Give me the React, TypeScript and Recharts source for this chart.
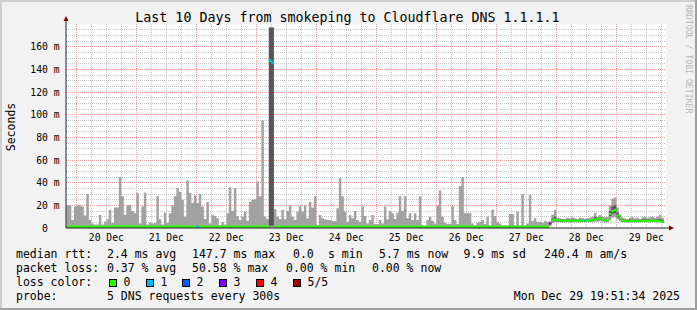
import React from "react";
import { ComposedChart, Area, XAxis, YAxis, CartesianGrid, ReferenceDot } from "recharts";

const FONT = "'DejaVu Sans Mono', monospace";

// hours counted from 19 Dec 00:00; the window ends Mon Dec 29 19:51:34
const windowStart = 19.86;
const windowEnd = 259.86;
const firstBarHour = 20;

const dayLabels = ["20 Dec", "21 Dec", "22 Dec", "23 Dec", "24 Dec", "25 Dec", "26 Dec", "27 Dec", "28 Dec", "29 Dec"];
const dayNoonHours = [36, 60, 84, 108, 132, 156, 180, 204, 228, 252];
const yTicks = [0, 20, 40, 60, 80, 100, 120, 140, 160];

// hourly max ping (ms), 19 Dec 20:00 -> 27 Dec 20:00
const smokeTopOld = [
  20, 20, 7, 19, 20, 20, 19, 11, 30, 7,
  4, 3, 3, 11.5, 3, 5.6, 7.7, 16, 4.7, 18,
  18, 45, 28, 11.5, 20, 20, 15, 13, 31, 4,
  19, 31, 3, 4.7, 4, 4.5, 28, 7.7, 3, 13.5,
  4.7, 13, 20, 28, 35, 32, 25, 10, 42, 31,
  22, 29, 22, 30, 19, 8, 23, 4, 11.5, 10.6,
  8.5, 2.7, 5.6, 3, 13, 36, 15, 35, 10.6, 7,
  10, 14.5, 6.5, 23, 25, 25.4, 41, 28, 95, 10,
  8, 177, 177, 16.5, 10, 7.7, 16, 7.7, 15, 20,
  10, 7, 14.5, 19, 14.5, 20, 8.5, 23, 18, 28,
  2.7, 11.5, 8.5, 7.7, 7, 7, 6.2, 6.2, 17.4, 44,
  28, 14.5, 5.6, 11.5, 8.5, 15, 7, 5.6, 19, 10.6,
  4, 7, 11.5, 3.5, 3.5, 7, 4, 19, 7.7, 15,
  13, 8, 13.5, 28, 15, 28, 8.5, 13, 7, 13,
  7, 28, 2.7, 2, 7, 10, 6.5, 4, 20, 33,
  10, 4.7, 3.5, 3.5, 19.5, 7, 3.5, 37, 45, 13,
  13, 13, 4, 2.5, 4.7, 5.6, 7, 3.5, 10, 2.5,
  16, 10.6, 5.6, 4, 2.5, 2.5, 2.5, 12.4, 12.4, 2.5,
  14.5, 2.5, 30, 2.5, 4, 29, 6, 8.5, 5.6, 5.6,
  4.7, 6.5, 5.6,
];
const medianOld = [
  1.2, 1.2, 1.0, 1.2, 1.4, 1.2, 1.2, 1.0, 1.2, 1.0,
  1.0, 1.0, 1.0, 1.2, 1.0, 1.0, 1.2, 1.4, 1.6, 1.4,
  1.6, 1.8, 1.6, 1.4, 1.6, 1.8, 1.6, 1.4, 1.2, 1.0,
  1.2, 1.2, 1.0, 1.0, 1.0, 1.0, 1.2, 1.0, 1.0, 1.2,
  1.0, 1.2, 1.4, 1.6, 1.8, 1.6, 1.4, 1.2, 1.4, 1.2,
  1.4, 1.2, 1.0, 1.2, 1.2, 1.0, 1.2, 1.0, 1.0, 1.0,
  1.0, 1.0, 1.0, 1.0, 1.2, 1.4, 1.2, 1.4, 1.2, 1.0,
  1.0, 1.2, 1.0, 1.2, 1.4, 1.4, 1.6, 1.4, 1.8, 1.2,
  1.2, 147.7, 146, 1.4, 1.2, 1.0, 1.2, 1.0, 1.2, 1.4,
  1.0, 1.0, 1.2, 1.4, 1.2, 1.4, 1.0, 1.2, 1.2, 1.4,
  1.0, 1.2, 1.0, 1.0, 1.0, 1.0, 1.0, 1.0, 1.4, 1.8,
  1.6, 1.2, 1.0, 1.2, 1.0, 1.2, 1.0, 1.0, 1.2, 1.0,
  1.0, 1.0, 1.2, 1.0, 1.0, 1.0, 1.0, 1.2, 1.0, 1.2,
  1.2, 1.0, 1.2, 1.4, 1.2, 1.4, 1.0, 1.2, 1.0, 1.2,
  1.0, 1.4, 1.0, 1.0, 1.0, 1.2, 1.0, 1.0, 1.2, 1.6,
  1.2, 1.0, 1.0, 1.0, 1.2, 1.0, 1.0, 1.6, 1.8, 1.2,
  1.2, 1.2, 1.0, 1.0, 1.0, 1.0, 1.0, 1.0, 1.2, 1.0,
  1.2, 1.2, 1.0, 1.0, 1.0, 1.0, 1.0, 1.2, 1.2, 1.0,
  1.2, 1.0, 1.4, 1.0, 1.0, 1.4, 1.0, 1.2, 1.0, 1.0,
  1.0, 1.2, 1.0,
];
// the spike on 22 Dec evening: dense smoke
const spikeBars = [82, 83];
const spikeCoreLow = [2, 2];
const spikeCoreTop = [177, 177];

// 27 Dec 21:00 -> 29 Dec 18:00
const smokeLowNew = [
  1.5, 4.5, 5, 5, 5, 4.8, 4.8, 5, 5, 4.8, 5, 5, 4.8, 5, 5, 5, 5, 5.2, 5.5, 5.5, 6, 5.5, 5,
  5.2, 7, 9, 9.5, 7.5, 6, 5, 4.8, 4.8, 4.8, 5, 4.8, 4.8, 4.8, 5, 5, 5, 4.8, 5, 5, 5, 4.8, 4.5,
];
const smokeTopNew = [
  6, 12, 16, 9, 8.5, 8, 8, 9, 8.5, 9.5, 8.5, 8, 9, 8.5, 8, 8.5, 9, 10, 13.5, 10, 11.5, 10, 9.5,
  10, 20, 26, 27, 18, 12, 9, 8.5, 8, 9, 9.5, 8.5, 9, 8, 9.5, 10, 9, 9.5, 10, 9, 10, 11.5, 9,
];
const coreLowNew = [
  3, 6, 6.5, 6, 5.8, 5.8, 5.6, 5.8, 5.8, 5.6, 5.8, 5.8, 5.6, 5.8, 5.8, 5.8, 5.8, 6.2, 7, 6.8, 7.5, 6.3, 5.8,
  6.2, 10.5, 12.5, 13, 9.5, 7.5, 5.8, 5.4, 5.4, 5.4, 5.6, 5.4, 5.6, 5.4, 5.8, 5.6, 5.8, 5.4, 5.8, 5.8, 5.6, 5.4, 5,
];
const coreTopNew = [
  5, 8.5, 10, 8, 7.3, 7.3, 7, 7.5, 7.3, 7.2, 7.3, 7.2, 7.2, 7.3, 7.2, 7.3, 7.5, 8, 10, 8.5, 9.5, 8, 7.5,
  8, 15, 19, 20, 13.5, 10, 7.5, 7, 7, 7.2, 7.3, 7, 7.3, 7, 7.5, 7.5, 7.5, 7.2, 7.5, 7.5, 7.5, 7.8, 6.8,
];
const medianNew = [
  4, 7, 7.5, 7, 6.5, 6.5, 6.2, 6.5, 6.5, 6.2, 6.5, 6.5, 6.2, 6.5, 6.5, 6.5, 6.5, 7, 8, 7.5, 8.5, 7, 6.5,
  7, 12.5, 15, 16, 11, 8.5, 6.5, 6, 6, 6, 6.2, 6, 6.2, 6, 6.5, 6.2, 6.5, 6, 6.5, 6.5, 6.2, 6, 5.5,
];

// bars (1-based) with lost pings
const lossBars = [53, 82, 83, 194, 208];
const lossCounts = [1, 1, 1, 3, 1];
const lossColors = ["#26ff00", "#00b8ff", "#0059ff", "#7e00ff", "#ff0000", "#a10000"];
const lossLabels = ["0", "1", "2", "3", "4", "5/5"];

const smokeTop = [...smokeTopOld, ...smokeTopNew];
const smokeLow = [...smokeTopOld.map(() => 0), ...smokeLowNew];
const median = [...medianOld, ...medianNew];
const coreLow: (number | null)[] = [...smokeTopOld.map(() => null), ...coreLowNew];
const coreTop: (number | null)[] = [...smokeTopOld.map(() => null), ...coreTopNew];
spikeBars.forEach((b, i) => {
  coreLow[b - 1] = spikeCoreLow[i];
  coreTop[b - 1] = spikeCoreTop[i];
});
const loss = median.map(() => 0);
lossBars.forEach((b, i) => (loss[b - 1] = lossCounts[i]));

const n = median.length;
const HALF = 0.9; // median drawn as a ~2px band

// stepAfter needs the closing point of every run, so carry the previous bar one step
function pick(j: number, f: (i: number) => number[] | null) {
  const v = j < n ? f(j) : null;
  if (v) return v;
  return j > 0 ? f(j - 1) : null;
}

const rows = Array.from({ length: n + 1 }, (_, j) => {
  const row: any = { t: firstBarHour + j };
  row.smoke = pick(j, (i) => [smokeLow[i], smokeTop[i]]);
  row.core = pick(j, (i) => (coreLow[i] == null ? null : [coreLow[i] as number, coreTop[i] as number]));
  lossColors.forEach((_, c) => {
    row["loss" + c] = pick(j, (i) => (c === 0 || loss[i] === c ? [median[i] - HALF, median[i] + HALF] : null));
  });
  return row;
});

const minorY: number[] = [];
for (let v = 5; v < 180; v += 5) if (v % 20) minorY.push(v);
const majorY = yTicks.filter((v) => v > 0);
const minorX: number[] = [];
const majorX: number[] = [];
for (let h = 24; h < windowEnd; h += 6) (h % 24 ? minorX : majorX).push(h);

const YTick = (p: any) => {
  const v = p.payload.value;
  return (
    <text x={p.x + (v === 0 ? -10.2 : 1.5)} y={p.y + 3.5} textAnchor="end" fontFamily={FONT} fontSize={9.7} fill="#000">
      {v === 0 ? "0" : `${v} m`}
    </text>
  );
};

const XTick = (p: any) => (
  <text x={p.x} y={p.y + 5} textAnchor="middle" fontFamily={FONT} fontSize={9.7} fill="#000">
    {dayLabels[dayNoonHours.indexOf(p.payload.value)]}
  </text>
);

const ArrowRight = (p: any) => (
  <g>
    <line x1={p.cx} y1={p.cy} x2={p.cx + 3} y2={p.cy} stroke="#212121" />
    <path d={`M${p.cx + 3},${p.cy - 2.5} L${p.cx + 8},${p.cy} L${p.cx + 3},${p.cy + 2.5} Z`} fill="#800000" />
  </g>
);
const ArrowUp = (p: any) => (
  <g>
    <line x1={p.cx} y1={p.cy} x2={p.cx} y2={p.cy - 3} stroke="#212121" />
    <path d={`M${p.cx - 2.5},${p.cy - 3} L${p.cx},${p.cy - 8} L${p.cx + 2.5},${p.cy - 3} Z`} fill="#800000" />
  </g>
);

const line1: [string, number][] = [
  ["median rtt:", 16], ["2.4 ms avg", 107], ["147.7 ms max", 192], ["0.0", 293], ["s min", 328],
  ["5.7 ms now", 379], ["9.9 ms sd", 463.5], ["240.4 m am/s", 544],
];
const line2: [string, number][] = [
  ["packet loss:", 16], ["0.37 % avg", 107], ["50.58 % max", 192], ["0.00 % min", 286], ["0.00 % now", 372],
];
const boxX = [109, 146, 182, 219, 256, 293];

export default function App() {
  return (
    <div style={{ position: "absolute", left: 0, top: 0, width: 697, height: 310, background: "#f2f2f2" }}>
      <div style={{ position: "absolute", left: 0, top: 0 }}>
        <ComposedChart width={697} height={310} data={rows} margin={{ top: 24, right: 31, bottom: 52, left: 16 }}>
          <CartesianGrid
            fill="#ffffff"
            stroke="#c4c4c4"
            strokeDasharray="1 1"
            horizontalValues={minorY}
            verticalValues={minorX}
            shapeRendering="crispEdges"
          />
          <CartesianGrid
            stroke="#ef9a9a"
            strokeDasharray="1 1"
            horizontalValues={majorY}
            verticalValues={majorX}
            shapeRendering="crispEdges"
          />
          <XAxis
            type="number"
            dataKey="t"
            domain={[windowStart, windowEnd]}
            ticks={dayNoonHours}
            interval={0}
            tick={XTick}
            tickLine={false}
            axisLine={{ stroke: "#212121" }}
            height={30}
            allowDataOverflow
          />
          <YAxis
            type="number"
            domain={[0, 180]}
            ticks={yTicks}
            interval={0}
            tick={YTick}
            tickLine={false}
            axisLine={{ stroke: "#212121" }}
            width={50}
            allowDataOverflow
          />
          <Area type="stepAfter" dataKey="smoke" stroke="none" fill="#a2a2a2" fillOpacity={1} dot={false} activeDot={false} isAnimationActive={false} />
          <Area type="stepAfter" dataKey="core" stroke="none" fill="#575757" fillOpacity={1} dot={false} activeDot={false} isAnimationActive={false} />
          {lossColors.map((c, i) => (
            <Area key={c} type="stepAfter" dataKey={"loss" + i} stroke="none" fill={c} fillOpacity={1} dot={false} activeDot={false} isAnimationActive={false} />
          ))}
          <ReferenceDot x={windowEnd} y={0} r={0} ifOverflow="visible" shape={ArrowRight} />
          <ReferenceDot x={windowStart} y={180} r={0} ifOverflow="visible" shape={ArrowUp} />
        </ComposedChart>
      </div>
      <svg width={697} height={310} style={{ position: "absolute", left: 0, top: 0, pointerEvents: "none" }} fontFamily={FONT}>
        <rect x={0} y={0} width={697} height={2} fill="#cfcfcf" />
        <rect x={0} y={0} width={2} height={310} fill="#cfcfcf" />
        <rect x={0} y={308} width={697} height={2} fill="#9e9e9e" />
        <rect x={695} y={0} width={2} height={310} fill="#9e9e9e" />
        <text x={347.5} y={22} textAnchor="middle" fontSize={13.3} fill="#000">
          Last 10 Days from smokeping to Cloudflare DNS 1.1.1.1
        </text>
        <text transform="translate(15,127) rotate(-90)" textAnchor="middle" fontSize={11.5} fill="#000">
          Seconds
        </text>
        <text transform="translate(686,5) rotate(90)" fontSize={8.2} fill="#b8b8b8">
          RRDTOOL / TOBI OETIKER
        </text>
        {line1.map(([s, x]) => (
          <text key={s} x={x} y={258} fontSize={11.5} fill="#000">{s}</text>
        ))}
        {line2.map(([s, x]) => (
          <text key={s} x={x} y={272} fontSize={11.5} fill="#000">{s}</text>
        ))}
        <text x={16} y={286} fontSize={11.5} fill="#000">loss color:</text>
        {lossColors.map((c, i) => (
          <g key={c}>
            <rect x={boxX[i] + 0.5} y={279.5} width={7} height={7} fill={c} stroke="#000" />
            <text x={boxX[i] + 14.5} y={286} fontSize={11.5} fill="#000">{lossLabels[i]}</text>
          </g>
        ))}
        <text x={16} y={300} fontSize={11.5} fill="#000">probe:</text>
        <text x={107} y={300} fontSize={11.5} fill="#000">5 DNS requests every 300s</text>
        <text x={680} y={300} textAnchor="end" fontSize={11.5} fill="#000">Mon Dec 29 19:51:34 2025</text>
      </svg>
    </div>
  );
}
